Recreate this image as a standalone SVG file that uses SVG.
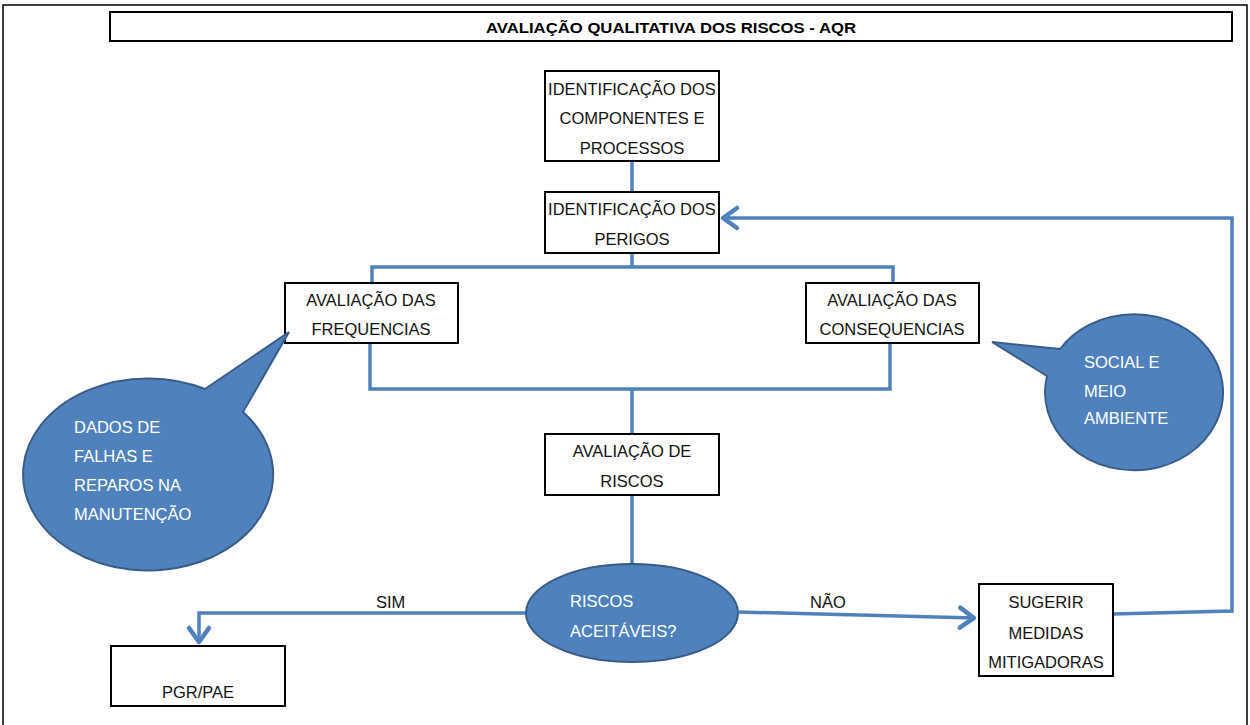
<svg xmlns="http://www.w3.org/2000/svg" width="1250" height="725" viewBox="0 0 1250 725">
<style>
.box{fill:#fff;stroke:#000;stroke-width:2}
.t{font-family:"Liberation Sans",Arial,sans-serif;font-size:16.5px;fill:#111}
.tc{text-anchor:middle}
.w{fill:#fff}
.bub{fill:#4F81BD;stroke:#385D8A;stroke-width:2}
.con{fill:none;stroke:#4F81BD;stroke-width:3.5}
</style>
<defs>
<marker id="arr" markerUnits="userSpaceOnUse" markerWidth="30" markerHeight="30" viewBox="-20 -15 30 30" refX="0" refY="0" orient="auto">
<path d="M-15,-10 L-1,0 L-15,10" fill="none" stroke="#4F81BD" stroke-width="4.5" stroke-linecap="round" stroke-linejoin="round"/>
</marker>
</defs>
<rect width="1250" height="725" fill="#fff"/>
<path d="M3,730 V5 H1247 V730" fill="none" stroke="#000" stroke-width="1.5"/>
<g id="title">
<rect x="110" y="12" width="1122" height="29" fill="#fff" stroke="#000" stroke-width="2"/>
<text x="671" y="33" text-anchor="middle" font-family="'Liberation Sans',Arial,sans-serif" font-weight="bold" font-size="15" textLength="370" lengthAdjust="spacingAndGlyphs">AVALIAÇÃO QUALITATIVA DOS RISCOS - AQR</text>
</g>
<g id="connectors">
<path class="con" d="M632,162 V192"/>
<path class="con" d="M632,253 V267"/>
<path class="con" d="M372,283 V267 H893 V283"/>
<path class="con" d="M370,343 V389 H890 V343"/>
<path class="con" d="M632,389 V434"/>
<path class="con" d="M632,495 V564"/>
<path class="con" d="M526,613 H199 V643" marker-end="url(#arr)"/>
<path class="con" d="M739,612 L975,618" marker-end="url(#arr)"/>
<path class="con" d="M1113,614 L1232,611 V218 H722" marker-end="url(#arr)"/>
<text class="t" x="376" y="608">SIM</text>
<text class="t" x="810" y="608">NÃO</text>
</g>
<g id="n-componentes">
<rect class="box" x="545" y="71" width="174" height="90"/>
<text class="t tc" x="632" y="95">IDENTIFICAÇÃO DOS</text>
<text class="t tc" x="632" y="124">COMPONENTES E</text>
<text class="t tc" x="632" y="154">PROCESSOS</text>
</g>
<g id="n-perigos">
<rect class="box" x="545" y="192" width="174" height="61"/>
<text class="t tc" x="632" y="215">IDENTIFICAÇÃO DOS</text>
<text class="t tc" x="632" y="245">PERIGOS</text>
</g>
<g id="n-frequencias">
<rect class="box" x="285" y="283" width="173" height="60"/>
<text class="t tc" x="371" y="306">AVALIAÇÃO DAS</text>
<text class="t tc" x="371" y="335">FREQUENCIAS</text>
</g>
<g id="n-consequencias">
<rect class="box" x="806" y="283" width="173" height="60"/>
<text class="t tc" x="892" y="306">AVALIAÇÃO DAS</text>
<text class="t tc" x="892" y="335">CONSEQUENCIAS</text>
</g>
<g id="n-riscos">
<rect class="box" x="545" y="434" width="174" height="61"/>
<text class="t tc" x="632" y="457">AVALIAÇÃO DE</text>
<text class="t tc" x="632" y="487">RISCOS</text>
</g>
<g id="n-aceitaveis">
<ellipse class="bub" cx="632" cy="613" rx="106" ry="49"/>
<text class="t w" x="570" y="607">RISCOS</text>
<text class="t w" x="570" y="637">ACEITÁVEIS?</text>
</g>
<g id="n-pgr">
<rect class="box" x="111" y="646" width="174" height="60"/>
<text class="t tc" x="198" y="698">PGR/PAE</text>
</g>
<g id="n-sugerir">
<rect class="box" x="979" y="584" width="134" height="92"/>
<text class="t tc" x="1046" y="608">SUGERIR</text>
<text class="t tc" x="1046" y="639">MEDIDAS</text>
<text class="t tc" x="1046" y="668">MITIGADORAS</text>
</g>
<g id="c-dados">
<path class="bub" d="M205,389 L289,332 L243,412 A125,96 0 1 1 205,389 Z"/>
<text class="t w" x="74" y="433">DADOS DE</text>
<text class="t w" x="74" y="462">FALHAS E</text>
<text class="t w" x="74" y="491">REPAROS NA</text>
<text class="t w" x="74" y="520">MANUTENÇÃO</text>
</g>
<g id="c-social">
<path class="bub" d="M1060,349 L992,342 L1047,376 A89,78 0 1 0 1060,349 Z"/>
<text class="t w" x="1084" y="368">SOCIAL E</text>
<text class="t w" x="1084" y="397">MEIO</text>
<text class="t w" x="1084" y="424">AMBIENTE</text>
</g>
</svg>
